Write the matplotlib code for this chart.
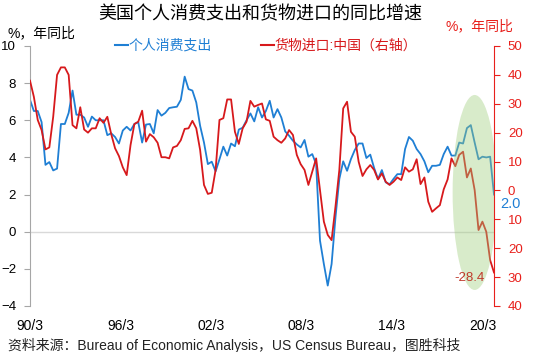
import numpy as np
import matplotlib.pyplot as plt
from matplotlib.patches import Ellipse
from matplotlib.lines import Line2D
from matplotlib.ticker import FuncFormatter

plt.rcParams['font.family'] = ['Liberation Sans', 'Noto Sans CJK SC']

# 季度数据 1990Q1 起
pce = [7.1, 6.5, 6.5, 5.9, 3.6, 3.75, 3.3, 3.4, 5.8, 5.8,
       6.4, 7.6, 6.3, 6.3, 6.15, 5.65, 6.2, 6.0, 6.0, 6.0,
       5.2, 5.3, 5.1, 4.75, 5.45, 5.65, 5.45, 5.8, 5.9, 4.8,
       5.77, 5.8, 5.3, 6.55, 6.25, 6.4, 6.66, 6.7, 6.73, 7.1,
       8.35, 7.68, 7.6, 6.96, 5.7, 4.8, 3.64, 3.77, 3.25, 3.9,
       4.58, 4.1, 4.75, 4.6, 5.5, 5.6, 6.0, 6.37, 5.94, 6.7,
       6.15, 6.5, 7.05, 6.15, 6.6, 6.15, 5.4, 5.17, 4.9, 4.7,
       4.54, 4.94, 4.04, 4.18, 3.64, -0.48, -1.74, -2.9, -1.74, 0.77,
       2.84, 3.79, 3.28, 3.91, 4.4, 4.75, 4.75, 3.97, 4.15, 3.43,
       2.84, 3.32, 2.66, 2.55, 2.84, 3.1, 3.1, 4.45, 5.1, 4.9,
       4.45, 4.18, 3.79, 3.2, 3.55, 3.55, 3.6, 4.18, 4.58, 4.1,
       4.1, 4.8, 4.75, 5.58, 5.74, 4.8, 3.9, 4.04, 4.0, 4.04,
       2.0]
imports_cn = [38, 32.4, 24.4, 20.9, 14.2, 14.9, 25.5, 40, 42.6, 42.6,
              40, 22.6, 21.5, 28.8, 21.1, 20, 21.5, 21.5, 25, 23.4,
              25.5, 19.5, 14.6, 11.9, 8, 5.3, 15.7, 23, 23.8, 27.6,
              16.9, 19.5, 18.4, 16.5, 11.5, 11.5, 11.1, 14.9, 15.4, 17.4,
              21.3, 21.5, 24.1, 21.5, 14, 1.9, -1.2, -0.8, 7.1, 24.4,
              25, 31.5, 31.5, 20.3, 16.1, 21.5, 23.8, 31, 29, 29.6,
              30.1, 24.6, 24.1, 18.6, 17.4, 16.5, 18.0, 20.9, 19.2, 12.3,
              9.1, 7.1, 1.9, 6.5, 11.1, 0.1, -10.8, -15.4, -17.2, -5.6,
              7.1, 28.4, 30.7, 20.3, 18.6, 9.9, 5.0, 7.3, 8.8, 7.1,
              3.8, 5.9, 3.0, 1.9, 3.0, 4.5, 3.6, 8.0, 6.5, 7.3,
              10.8, 2.2, 4.5, -3.9, -7.4, -6.2, -5.1, 0.4, 3.8, 11.1,
              8.4, 12.3, 13.4, 4.5, 7.6, 0.1, -13.7, -10.8, -14.3, -24.1,
              -28.4]
xtick_labels = ['90/3', '96/3', '02/3', '08/3', '14/3', '20/3']

BLUE = '#1f7fd4'
RED = '#d7191c'
RED_AX = '#e8201c'
GRAY = '#a6a6a6'

x = np.arange(len(pce))

fig = plt.figure(figsize=(5.33, 3.52), dpi=100)
ax = fig.add_axes([30 / 533, 1 - 306 / 352, 464 / 533, 260 / 352])
ax2 = ax.twinx()

ax.axhline(0, color='#d9d9d9', lw=1, zorder=0)
ax.plot(x, pce, color=BLUE, lw=1.3)
ax2.plot(x, imports_cn, color=RED, lw=1.3)

ax.set_xlim(0, len(pce) - 1)
ax.set_ylim(-4, 10)
ax.set_yticks(range(-4, 11, 2))
ax2.set_ylim(-40, 50)
ax2.set_yticks(range(-40, 51, 10))
ax2.yaxis.set_major_formatter(FuncFormatter(lambda v, p: f'{abs(v):.0f}'))

ax.set_xticks(np.linspace(0, 117, 6))
ax.set_xticklabels(xtick_labels)

for s in ['top', 'bottom', 'right']:
    ax.spines[s].set_visible(False)
for s in ['top', 'bottom', 'left']:
    ax2.spines[s].set_visible(False)
ax.spines['left'].set_color(GRAY)
ax2.spines['right'].set_color(RED_AX)

ax.tick_params(axis='y', direction='out', length=4, color=GRAY, labelsize=9.5, pad=6)
ax.tick_params(axis='x', length=0, pad=9, labelsize=10)
ax2.tick_params(axis='y', direction='out', length=4, color=RED_AX, labelcolor=RED_AX,
                labelsize=9.5, pad=6)

# 高亮区域
ax2.add_patch(Ellipse((115, -0.7), width=11.4, height=67.5, facecolor='#9fcd7c',
                      edgecolor='none', alpha=0.4, zorder=5))

ax.annotate('2.0', xy=(x[-1], pce[-1]), xytext=(11.5, -6.5), textcoords='offset points',
            ha='center', va='center', color=BLUE, fontsize=10.5, annotation_clip=False)
ax2.annotate('-28.4', xy=(x[-1], imports_cn[-1]), xytext=(-17.3, -4), textcoords='offset points',
             ha='center', va='center', color='#c0392b', fontsize=9.5, zorder=6)

handles = [Line2D([], [], color=BLUE, lw=1.5), Line2D([], [], color=RED, lw=1.5)]
ax2.legend(handles, ['个人消费支出', '货物进口:中国（右轴）'], loc='center left',
           bbox_to_anchor=(115 / 533, 1 - 46 / 352), bbox_transform=fig.transFigure,
           ncol=2, frameon=False, handlelength=0.9, handletextpad=0.05, columnspacing=3.6,
           borderpad=0, borderaxespad=0, fontsize=10, labelcolor='linecolor')

fig.text(260 / 533, 1 - 15 / 352, '美国个人消费支出和货物进口的同比增速', ha='center', va='center',
         fontsize=13, weight='medium')
fig.text(7 / 533, 1 - 33 / 352, '%，年同比', ha='left', va='center', fontsize=10)
fig.text(513 / 533, 1 - 26 / 352, '%，年同比', ha='right', va='center', fontsize=10, color=RED_AX)
fig.text(8 / 533, 1 - 345 / 352, '资料来源：Bureau of Economic Analysis，US Census Bureau，图胜科技',
         ha='left', va='center', fontsize=10, color='#222222')

fig.savefig('out.png', dpi=100)
